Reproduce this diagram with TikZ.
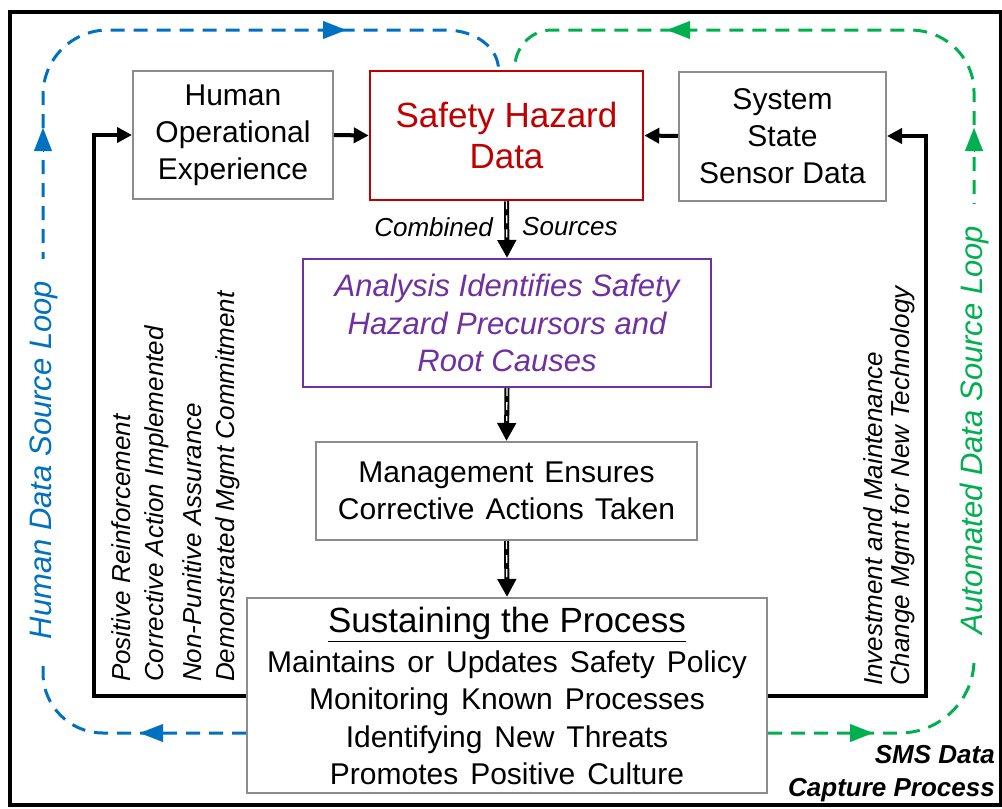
\documentclass[tikz,border=0pt]{standalone}
\usepackage{fontspec}
\setmainfont{Liberation Sans}
\usetikzlibrary{arrows.meta}
\definecolor{loopblue}{HTML}{0070C0}
\definecolor{loopgreen}{HTML}{00B050}
\definecolor{hazred}{HTML}{C00000}
\definecolor{anapurple}{HTML}{7030A0}
\definecolor{boxgray}{HTML}{8C8C8C}
\newcommand\setfs[2]{\fontsize{#1pt}{#2pt}\selectfont}
\newcommand\widespace[1]{\spaceskip=#1 plus 2pt minus 1pt\relax}
\tikzset{
  box/.style={draw=boxgray, line width=2pt, fill=white, inner sep=0pt, align=center},
  flow/.style={line width=4pt, -{Triangle[length=15pt,width=15pt]}},
  dflow/.style={line width=5pt, -{Triangle[length=18pt,width=18pt]}},
  dcore/.style={white, line width=1.3pt, dash pattern=on 8pt off 6pt, shorten >=20pt},
  loopline/.style={line width=3pt, dash pattern=on 14pt off 9pt},
  looptip/.style={line width=0.1pt, solid, -{Triangle[length=23pt,width=18pt]}},
  rot/.style={rotate=90, inner sep=0pt, font=\setfs{26}{30}\itshape},
  looplabel/.style={rotate=90, fill=white, inner xsep=22pt, inner ysep=2pt, font=\setfs{31}{35}\itshape}
}
\begin{document}
\begin{tikzpicture}[x=1pt,y=-1pt]
\useasboundingbox (0,0) rectangle (1002,809);

% main boxes
\node[box, minimum width=200pt, minimum height=128pt, font=\setfs{30}{37}] (hum) at (233,135) {Human\\Operational\\Experience};
\node[box, draw=hazred, text=hazred, line width=2.5pt, minimum width=273pt, minimum height=129pt, font=\setfs{35}{41}] (saf) at (506.5,135.5) {Safety Hazard\\Data};
\node[box, minimum width=207pt, minimum height=129pt, font=\setfs{30}{37}] (sys) at (782.5,136) {System\\State\\Sensor Data};
\node[box, draw=anapurple, text=anapurple, minimum width=408pt, minimum height=128pt, font=\setfs{31}{37.5}\itshape] (ana) at (507,323) {Analysis Identifies Safety\\Hazard Precursors and\\Root Causes};
\node[box, minimum width=381pt, minimum height=98pt, font={\setfs{30}{37.5}\widespace{11pt}}] (man) at (506.5,491) {Management Ensures\\Corrective Actions Taken};
\node[box, minimum width=520pt, minimum height=195pt] (sus) at (507,695.5) {};
\node[inner sep=0pt, font=\setfs{35}{40}] (sustitle) at (507,624) {\underline{Sustaining the Process}};
\node[inner sep=0pt, align=center, font={\setfs{30}{37.5}\widespace{12pt}}] (suslines) at (507,718) {Maintains or Updates Safety Policy\\Monitoring Known Processes\\Identifying New Threats\\Promotes Positive Culture};

% human data source loop
\draw[loopline, loopblue] (sus.west |- 0,733) -- (103,733)
  .. controls (70,733) and (43,706) .. (43,673) -- (43,95)
  .. controls (43,59) and (72,30) .. (108,30) -- (445,30)
  .. controls (476,30) and ([xshift=-8pt]saf.north |- 0,48) .. ([xshift=-8pt]saf.north);
\draw[looptip, loopblue] (163,733) -- (140,733);
\draw[looptip, loopblue] (43,151) -- (43,128);
\draw[looptip, loopblue] (323,30) -- (346,30);

% automated data source loop
\draw[loopline, loopgreen] (sus.east |- 0,733) -- (900,733)
  .. controls (940,733) and (974,700) .. (974,660) -- (974,92)
  .. controls (974,57) and (945,30) .. (910,30) -- (552,30)
  .. controls (530,30) and ([xshift=8pt]saf.north |- 0,48) .. ([xshift=8pt]saf.north);
\draw[looptip, loopgreen] (850,733) -- (873,733);
\draw[looptip, loopgreen] (974,151) -- (974,128);
\draw[looptip, loopgreen] (690,30) -- (667,30);

% feedback loops
\draw[flow] (sus.west) -- ++(-152,0) |- (hum.west);
\draw[flow] (sus.east) -- ++(158,0) |- (sys.east);
\draw[flow] (hum.east) -- (saf.west);
\draw[flow] (sys.west) -- (saf.east);

% main process flow
\draw[dflow] (saf.south) -- (ana.north);
\draw[dcore] (saf.south) -- (ana.north);
\draw[dflow] (ana.south) -- (man.north);
\draw[dcore] (ana.south) -- (man.north);
\draw[dflow] (man.south) -- (sus.north);
\draw[dcore] (man.south) -- (sus.north);

% labels
\node[anchor=east, inner sep=0pt, font=\setfs{26}{30}\itshape] (comb) at (493,227) {Combined};
\node[anchor=west, inner sep=0pt, font=\setfs{26}{30}\itshape] (srcs) at (522,227) {Sources};

\node[rot, anchor=west] (l1) at (121,682) {Positive Reinforcement};
\node[rot, anchor=west] (l2) at (157,682) {Corrective Action Implemented};
\node[rot, anchor=west] (l3) at (192,682) {Non-Punitive Assurance};
\node[rot, anchor=west] (l4) at (228,682) {Demonstrated Mgmt Commitment};

\node[rot, anchor=west] (r1) at (873,686) {Investment and Maintenance};
\node[rot, anchor=west] (r2) at (903,686) {Change Mgmt for New Technology};

\node[looplabel, text=loopblue] (hlab) at (44,460) {Human Data Source Loop};
\node[looplabel, text=loopgreen] (alab) at (974,430) {Automated Data Source Loop};

\node[anchor=east, align=right, inner sep=0pt, font=\setfs{26}{33}\bfseries\itshape] (sms) at (995,774) {SMS Data\\Capture Process};

% outer frame
\draw[line width=4.5pt] (10,12) rectangle (1001,805);
\end{tikzpicture}
\end{document}
